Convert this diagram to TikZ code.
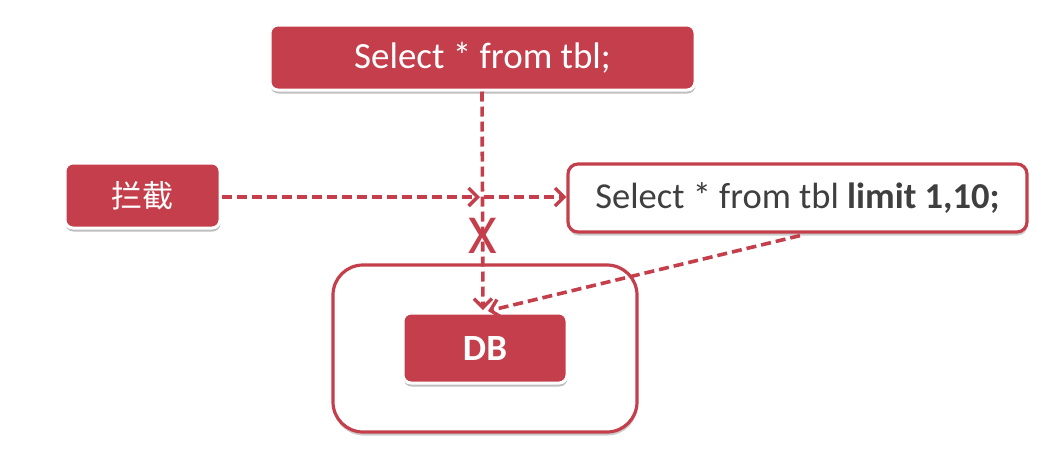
\documentclass[tikz,border=0pt]{standalone}
\usepackage{fontspec}
\setmainfont{Carlito}
\newfontfamily\cjk{Noto Sans CJK SC}
\usetikzlibrary{arrows.meta,shadows}
\definecolor{boxred}{HTML}{C43F4B}
\definecolor{txtgray}{HTML}{3F3F3F}
\tikzset{
  redbox/.style={rectangle, rounded corners=8pt, fill=boxred, draw=white, line width=3pt,
    text=white, inner sep=0pt, anchor=center,
    drop shadow={shadow xshift=0.5pt, shadow yshift=-3.5pt, opacity=0.25, fill=black}},
  whitebox/.style={rectangle, rounded corners=10pt, fill=white, draw=boxred, line width=3.2pt,
    text=txtgray, inner sep=0pt, anchor=center,
    drop shadow={shadow xshift=0.5pt, shadow yshift=-3.5pt, opacity=0.2, fill=black}},
  dasharrow/.style={draw=boxred, line width=3.6pt, dash pattern=on 10pt off 5pt,
    -{Straight Barb[length=9pt,width=18pt,line width=3.4pt]}},
}
\begin{document}
\begin{tikzpicture}[x=1pt,y=-1pt]
\useasboundingbox (0,0) rectangle (1063,448);
\fill[white] (0,0) rectangle (1063,448);
% outer container
\node[whitebox, rounded corners=30pt, minimum width=304pt, minimum height=167pt] (outer) at (485,348.5) {};
% boxes
\node[redbox, minimum width=425pt, minimum height=65pt] (top) at (482.5,57.5)
  {\fontsize{37}{42}\selectfont Select * from tbl;};
\node[redbox, minimum width=155pt, minimum height=65pt] (ljie) at (142.5,195.5)
  {\cjk\fontsize{31}{36}\selectfont 拦截};
\node[whitebox, minimum width=459pt, minimum height=68pt] (lim) at (797.5,198)
  {\fontsize{36.5}{42}\selectfont Select * from tbl \textbf{limit 1,10;}};
\node[redbox, minimum width=164pt, minimum height=70pt] (db) at (485,348)
  {\fontsize{37}{40}\selectfont\bfseries DB};
% connectors
\coordinate (cross) at (482,197);
\coordinate (dbin) at (483,310);
\coordinate (dbin2) at (488,311);
\draw[dasharrow] (top.south -| cross) -- (dbin);
\draw[dasharrow] (ljie.east |- cross) -- ([xshift=-2pt]cross);
\draw[dasharrow] ([xshift=2pt]cross) -- (lim.west |- cross);
\draw[dasharrow] ([xshift=2.5pt,yshift=-2pt]lim.south) -- (dbin2);
% blocked mark
\node[text=boxred, inner sep=0pt] (xmark) at (483,236) {\fontsize{55}{55}\selectfont X};
\end{tikzpicture}
\end{document}
